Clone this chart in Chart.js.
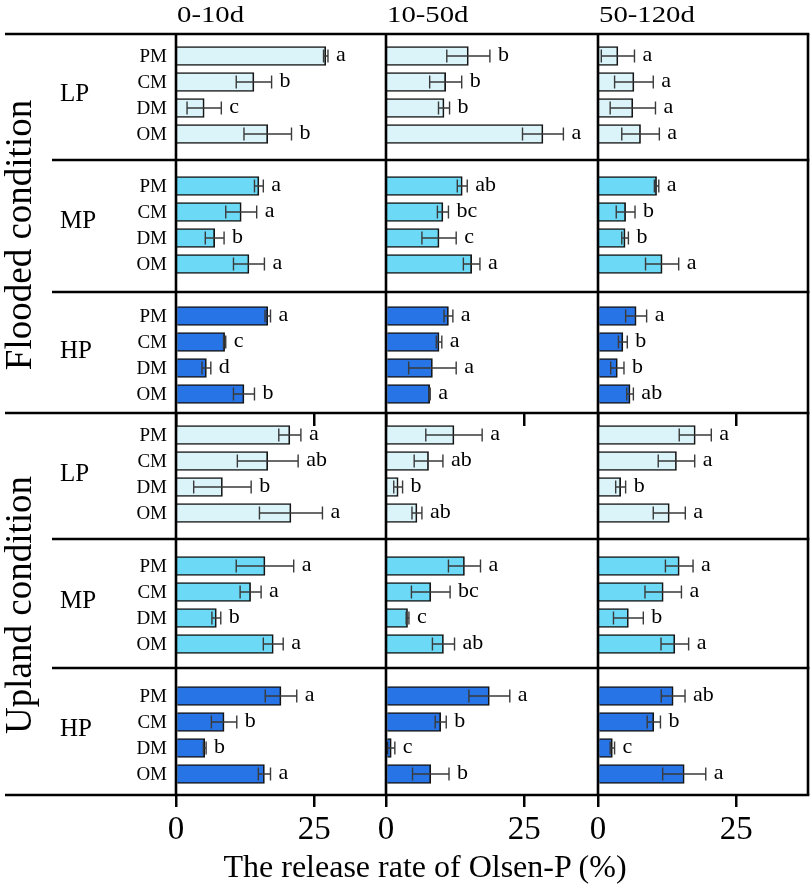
<!DOCTYPE html>
<html>
<head>
<meta charset="utf-8">
<script src="https://cdn.jsdelivr.net/npm/chart.js@4.4.1/dist/chart.umd.min.js"></script>
<style>
  html, body { margin: 0; padding: 0; background: #fff; overflow: hidden; }
  #wrap { position: relative; width: 810px; height: 886px; font-family: "Liberation Serif", "Times New Roman", serif; color: #000; }
  #wrap canvas { position: absolute; }
  .t { position: absolute; white-space: nowrap; line-height: 1; }
  #frame { position: absolute; left: 0; top: 0; pointer-events: none; }
</style>
</head>
<body>
<div id="wrap"></div>
<script>
const periods = ["0-10d", "10-50d", "50-120d"];
const manures = ["PM", "CM", "DM", "OM"];
const levels = ["LP", "MP", "HP"];
const conditions = ["Flooded condition", "Upland condition"];
const xTicks = [0, 25];
const xTitle = "The release rate of Olsen-P (%)";

// release rate (%), one inner array per period, order PM, CM, DM, OM
const floodedLP = [[27.1, 14.1, 5.1, 16.6], [14.9, 10.8, 10.5, 28.4], [3.6, 6.5, 6.3, 7.7]];
const floodedLPErr = [[0.4, 3.2, 3.1, 4.3], [3.9, 2.9, 1.0, 3.7], [3.0, 3.5, 4.1, 3.4]];
const floodedLPSig = [["a", "b", "c", "b"], ["b", "b", "b", "a"], ["a", "a", "a", "a"]];

const floodedMP = [[15.0, 11.8, 7.0, 13.2], [13.8, 10.3, 9.6, 15.5], [10.6, 5.0, 4.9, 11.6]];
const floodedMPErr = [[0.8, 2.8, 1.7, 2.8], [0.9, 1.0, 3.1, 1.5], [0.4, 1.7, 0.6, 3.0]];
const floodedMPSig = [["a", "a", "b", "a"], ["ab", "bc", "c", "a"], ["a", "b", "b", "a"]];

const floodedHP = [[16.6, 8.8, 5.5, 12.3], [11.3, 9.6, 8.4, 7.9], [6.9, 4.5, 3.5, 5.8]];
const floodedHPErr = [[0.5, 0.2, 0.8, 1.9], [0.8, 0.5, 4.3, 0.1], [1.9, 0.8, 1.2, 0.6]];
const floodedHPSig = [["a", "c", "d", "b"], ["a", "a", "a", "a"], ["a", "b", "b", "ab"]];

const uplandLP = [[20.6, 16.6, 8.4, 20.8], [12.3, 7.7, 2.2, 5.6], [17.6, 14.2, 4.1, 12.9]];
const uplandLPErr = [[2.0, 5.5, 5.2, 5.7], [5.1, 2.6, 0.8, 0.9], [2.9, 3.3, 0.9, 2.9]];
const uplandLPSig = [["a", "ab", "b", "a"], ["a", "ab", "b", "ab"], ["a", "a", "b", "a"]];

const uplandMP = [[16.1, 13.5, 7.3, 17.6], [14.2, 8.1, 3.9, 10.4], [14.7, 11.8, 5.5, 13.9]];
const uplandMPErr = [[5.2, 1.9, 0.8, 1.8], [2.9, 3.5, 0.25, 2.0], [2.5, 3.3, 2.7, 2.5]];
const uplandMPSig = [["a", "a", "b", "a"], ["a", "bc", "c", "ab"], ["a", "a", "b", "a"]];

const uplandHP = [[19.0, 8.7, 5.2, 16.0], [18.7, 9.9, 0.95, 8.1], [13.6, 10.1, 2.6, 15.6]];
const uplandHPErr = [[2.85, 2.3, 0.25, 1.1], [3.7, 1.0, 0.65, 3.3], [2.15, 1.2, 0.4, 3.9]];
const uplandHPSig = [["a", "b", "b", "a"], ["a", "b", "c", "b"], ["ab", "b", "c", "a"]];

const levelColors = { LP: "#dbf4fa", MP: "#6cdaf6", HP: "#2674e6" };

// layout (px)
const FONT = '"Liberation Serif", "Times New Roman", serif';
const COL_LEFT = [176, 386, 598];
const PANEL_W = 210;
const X_MAX = 38;
const ROW_LINES = [34, 160, 292, 413, 539, 668, 795];
const FIRST_BAR = [56, 186, 316, 435, 566, 696];
const BAR_STEP = 26;
const LABEL_Y = [92, 219, 349, 472, 599, 727];

const rows = [
  { level: "LP", vals: floodedLP, errs: floodedLPErr, sig: floodedLPSig },
  { level: "MP", vals: floodedMP, errs: floodedMPErr, sig: floodedMPSig },
  { level: "HP", vals: floodedHP, errs: floodedHPErr, sig: floodedHPSig },
  { level: "LP", vals: uplandLP, errs: uplandLPErr, sig: uplandLPSig },
  { level: "MP", vals: uplandMP, errs: uplandMPErr, sig: uplandMPSig },
  { level: "HP", vals: uplandHP, errs: uplandHPErr, sig: uplandHPSig },
];

const wrap = document.getElementById("wrap");

// error bars + significance letters, and manure names for the first column
const errorBars = {
  id: "errorBars",
  afterDatasetsDraw(chart) {
    const { ctx, chartArea } = chart;
    const xs = chart.scales.x, ys = chart.scales.y;
    chart.data.datasets.forEach((ds, di) => {
      chart.getDatasetMeta(di).data.forEach((bar, i) => {
        const v = ds.data[i].x, e = ds.errors[i];
        const x1 = xs.getPixelForValue(v - e);
        const x2 = xs.getPixelForValue(v + e);
        const y = bar.y;
        ctx.save();
        ctx.strokeStyle = "#3a3a3a";
        ctx.lineWidth = 1.4;
        ctx.beginPath();
        ctx.moveTo(x1, y); ctx.lineTo(x2, y);
        ctx.moveTo(x1, y - 6.5); ctx.lineTo(x1, y + 6.5);
        ctx.moveTo(x2, y - 6.5); ctx.lineTo(x2, y + 6.5);
        ctx.stroke();
        ctx.fillStyle = "#000";
        ctx.font = "22px " + FONT;
        ctx.textBaseline = "alphabetic";
        ctx.textAlign = "left";
        ctx.fillText(ds.letters[i], Math.max(x2, bar.x) + 8, y + 5);
        if (ds.showNames) {
          ctx.font = "19px " + FONT;
          ctx.textAlign = "right";
          ctx.textBaseline = "middle";
          ctx.fillText(manures[i], chartArea.left - 9, ys.getPixelForValue(i) + 1);
        }
        ctx.restore();
      });
    });
  },
};

function makePanel(r, c) {
  const row = rows[r];
  const top = ROW_LINES[r], bottom = ROW_LINES[r + 1];
  const isHP = row.level === "HP";
  const last = r === rows.length - 1;
  const padL = c === 0 ? 76 : 24;
  const axisH = last ? 886 - bottom : (isHP ? 14 : 0);
  const w = padL + PANEL_W + 2;
  const h = bottom - top + axisH;

  const canvas = document.createElement("canvas");
  canvas.width = w; canvas.height = h;
  canvas.style.width = w + "px"; canvas.style.height = h + "px";
  canvas.style.left = (COL_LEFT[c] - padL) + "px";
  canvas.style.top = top + "px";
  wrap.appendChild(canvas);

  new Chart(canvas, {
    type: "bar",
    data: {
      datasets: [{
        data: row.vals[c].map((v, i) => ({ x: v, y: i })),
        errors: row.errs[c],
        letters: row.sig[c],
        showNames: c === 0,
        backgroundColor: levelColors[row.level],
        borderColor: "#151515",
        borderWidth: 1.7,
        barThickness: 19,
      }],
    },
    options: {
      indexAxis: "y",
      responsive: false,
      animation: false,
      layout: { autoPadding: false, padding: { left: padL, right: 2, top: 0, bottom: 0 } },
      plugins: { legend: { display: false }, tooltip: { enabled: false } },
      scales: {
        y: {
          type: "linear",
          reverse: true,
          offset: false,
          display: false,
          min: -(FIRST_BAR[r] - top) / BAR_STEP,
          max: 3 + (bottom - FIRST_BAR[r] - 3 * BAR_STEP) / BAR_STEP,
        },
        x: {
          type: "linear",
          min: 0,
          max: X_MAX,
          display: isHP,
          afterBuildTicks: (s) => { s.ticks = xTicks.map((v) => ({ value: v })); },
          afterFit: (s) => { s.height = axisH; },
          grid: { drawOnChartArea: false, drawTicks: true, tickLength: last ? 12 : 13, lineWidth: 2.5, color: "#000" },
          border: { display: false },
          ticks: { display: last, color: "#000", padding: 4, font: { family: FONT, size: 33 } },
        },
      },
    },
    plugins: [errorBars],
  });
}

for (let r = 0; r < rows.length; r++) {
  for (let c = 0; c < periods.length; c++) makePanel(r, c);
}

// frame lines
const svgNS = "http://www.w3.org/2000/svg";
const svg = document.createElementNS(svgNS, "svg");
svg.setAttribute("id", "frame");
svg.setAttribute("width", 810);
svg.setAttribute("height", 886);
function line(x1, y1, x2, y2) {
  const l = document.createElementNS(svgNS, "line");
  l.setAttribute("x1", x1); l.setAttribute("y1", y1);
  l.setAttribute("x2", x2); l.setAttribute("y2", y2);
  l.setAttribute("stroke", "#000");
  l.setAttribute("stroke-width", 2.6);
  svg.appendChild(l);
}
const RIGHT = 808;
ROW_LINES.forEach((y, i) => {
  const fromX = (i === 0 || i === 3 || i === 6) ? 5 : 52;
  line(fromX, y, RIGHT + 1.3, y);
});
COL_LEFT.concat([RIGHT]).forEach((x) => line(x, ROW_LINES[0], x, ROW_LINES[6]));
wrap.appendChild(svg);

// text
function text(str, size, css) {
  const d = document.createElement("div");
  d.className = "t";
  d.textContent = str;
  d.style.fontSize = size + "px";
  Object.assign(d.style, css);
  wrap.appendChild(d);
  return d;
}
periods.forEach((p, c) => text(p, 23, {
  left: (COL_LEFT[c] + 1) + "px", top: "3px",
  transform: "scaleX(1.25)", transformOrigin: "0 0",
}));
rows.forEach((row, r) => text(row.level, 25, { left: "60px", top: LABEL_Y[r] + "px", transform: "translateY(-50%)" }));
conditions.forEach((s, i) => text(s, 37, {
  left: "18px",
  top: (i === 0 ? 235 : 605) + "px",
  transform: "translate(-50%, -50%) rotate(-90deg)",
}));
text(xTitle, 32, { left: "425px", top: "850px", transform: "translateX(-50%)" });
</script>
</body>
</html>
